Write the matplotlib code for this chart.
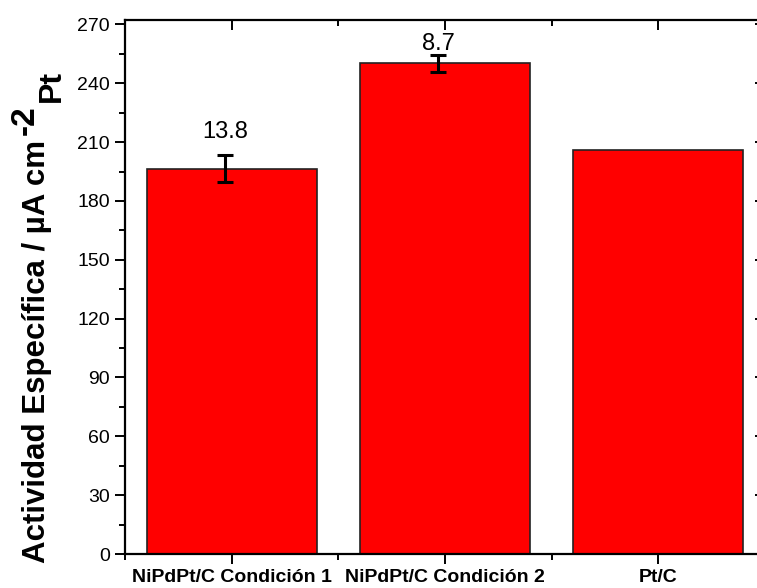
import matplotlib
matplotlib.use("Agg")
import matplotlib.pyplot as plt
from matplotlib.ticker import MultipleLocator, FixedLocator
from matplotlib.transforms import IdentityTransform
import numpy as np

plt.rcParams['font.family'] = ['Liberation Sans', 'DejaVu Sans']

# Data
categories = ["NiPdPt/C Condición 1", "NiPdPt/C Condición 2", "Pt/C"]
activity = [196.4, 250.3, 206.2]
error_range = [13.8, 8.7, None]   # full spread of the error bar
error_labels = ["13.8", "8.7", None]

fig = plt.figure(figsize=(7.57, 5.88), dpi=100)
ax = fig.add_axes([0.1655, 0.0578, 0.8447, 0.909])

x = np.arange(1, len(categories) + 1)
ax.bar(x, activity, width=0.8, color="#ff0000", edgecolor="#222222", linewidth=1.2, zorder=2)

# error bars, shifted slightly left of the bar centre
err_shift = -0.033
label_offsets = [9, 0, 0]
for xi, val, er, lab, off in zip(x, activity, error_range, error_labels, label_offsets):
    if er is None:
        continue
    ax.errorbar(xi + err_shift, val, yerr=er / 2, fmt="none", ecolor="black",
                elinewidth=2.2, capsize=5.5, capthick=2.2, zorder=3)
    ax.annotate(lab, (xi + err_shift, val + er / 2), xytext=(0, off),
                textcoords="offset points", ha="center", va="bottom", fontsize=17)

ax.set_xlim(0.5, 3.5)
ax.set_ylim(0, 272.5)
ax.set_xticks(x)
ax.set_xticklabels(categories, fontsize=14, fontweight="bold")
ax.xaxis.set_minor_locator(FixedLocator([0.5, 1.5, 2.5, 3.5]))
ax.yaxis.set_major_locator(MultipleLocator(30))
ax.yaxis.set_minor_locator(MultipleLocator(15))
ax.tick_params(axis="y", labelsize=14)
ax.tick_params(axis="x", pad=3)

for s in ax.spines.values():
    s.set_linewidth(1.6)

ax.tick_params(which="major", length=7.5, width=1.4, direction="out")
ax.tick_params(which="minor", length=4.5, width=1.4, direction="out")
ax.tick_params(which="both", top=True, right=True)

# top and right ticks point inward, bottom and left outward
for tick in ax.xaxis.get_major_ticks() + ax.xaxis.get_minor_ticks():
    tick.tick2line.set_marker(matplotlib.lines.TICKDOWN)
for tick in ax.yaxis.get_major_ticks() + ax.yaxis.get_minor_ticks():
    tick.tick2line.set_marker(matplotlib.lines.TICKLEFT)

# y-axis title built from three pieces so the exponent and subscript keep a large size
px = IdentityTransform()
ytitle_kw = dict(rotation=90, rotation_mode="anchor", ha="left", va="baseline",
                 fontweight="bold", transform=px)
main = fig.text(45, 25, "Actividad Específica / µA cm", fontsize=22.5, **ytitle_kw)
fig.canvas.draw()
r = fig.canvas.get_renderer()
top = main.get_window_extent(r).y1
sup = fig.text(34, top + 5, "-2", fontsize=24, **ytitle_kw)
fig.canvas.draw()
top2 = sup.get_window_extent(r).y1
fig.text(60, top2 + 3, "Pt", fontsize=23, **ytitle_kw)

fig.savefig("out.png", dpi=100)
